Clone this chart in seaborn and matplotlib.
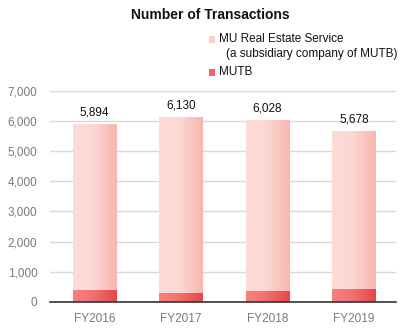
import numpy as np
import pandas as pd
import matplotlib
matplotlib.use("Agg")
import matplotlib.pyplot as plt
from matplotlib.colors import LinearSegmentedColormap
from matplotlib.patches import Rectangle
import seaborn as sns

years = ["FY2016", "FY2017", "FY2018", "FY2019"]
totals = [5894, 6130, 6028, 5678]
mutb = [400, 300, 370, 430]
mures = [t - m for t, m in zip(totals, mutb)]
total_labels = ["5,894", "6,130", "6,028", "5,678"]
yticks = [0, 1000, 2000, 3000, 4000, 5000, 6000, 7000]

sns.set_theme(style="white")
plt.rcParams['font.family'] = ['Liberation Sans', 'DejaVu Sans']

df = pd.DataFrame({"year": years, "mutb": mutb, "mures": mures})
df["stack"] = df["mutb"] + df["mures"]

fig = plt.figure(figsize=(4.03, 3.32), dpi=100)
ax = fig.add_axes([50/403, 1-302/332, 346/403, (302-90.7)/332])

sns.barplot(data=df, x="year", y="stack", color="#fcd9d5", width=0.5, ax=ax,
            saturation=1, linewidth=0)
n_top = len(ax.patches)
sns.barplot(data=df, x="year", y="mutb", color="#f06a6a", width=0.5, ax=ax,
            saturation=1, linewidth=0)

cm_top = LinearSegmentedColormap.from_list("top", [(0, "#fddbd7"), (0.45, "#fcd8d3"), (1, "#f8b6ae")])
cm_bot = LinearSegmentedColormap.from_list("bot", [(0, "#f88080"), (0.4, "#f27474"), (1, "#e64747")])
grad = np.linspace(0, 1, 256).reshape(1, -1)
for i, p in enumerate(ax.patches):
    x0, y0 = p.get_x(), p.get_y()
    w, h = p.get_width(), p.get_height()
    cmap = cm_top if i < n_top else cm_bot
    im = ax.imshow(grad, cmap=cmap, extent=[x0, x0 + w, y0, y0 + h],
                   aspect="auto", interpolation="bilinear", zorder=2 + (i >= n_top))
    im.set_clip_path(p)
    p.set_facecolor("none")

ax.set_xlim(-0.515, 3.485)
ax.set_ylim(0, 7000)
ax.set_yticks(yticks)
ax.set_yticklabels([f"{v:,}" for v in yticks])
ax.yaxis.grid(True, color="#d9d9d9", linewidth=1)
ax.set_axisbelow(True)
for s in ["top", "right", "left"]:
    ax.spines[s].set_visible(False)
ax.spines["bottom"].set_color("#333333")
ax.spines["bottom"].set_linewidth(1.2)
ax.spines["bottom"].set_zorder(5)
ax.tick_params(axis="both", length=0, labelsize=8.5, colors="#7a7a7a")
ax.tick_params(axis="y", pad=9)
ax.tick_params(axis="x", pad=8)
ax.set_xlabel("")
ax.set_ylabel("")

for i, (t, lab) in enumerate(zip(totals, total_labels)):
    ax.annotate(lab, (i, t), xytext=(0, 4), textcoords="offset points",
                ha="center", va="bottom", fontsize=8.5, color="#111111")

fig.text(210/403, 1-15/332, "Number of Transactions", ha="center", va="center",
         fontsize=10, fontweight="bold", color="#111111")

# legend
fig.patches.append(Rectangle((209/403, 1-43/332), 6/403, 7/332, transform=fig.transFigure,
                             facecolor="#fbd0cb", edgecolor="none"))
fig.patches.append(Rectangle((209/403, 1-76/332), 6/403, 7/332, transform=fig.transFigure,
                             facecolor="#ef6565", edgecolor="none"))
fig.text(219/403, 1-39/332, "MU Real Estate Service", ha="left", va="center",
         fontsize=8.5, color="#111111")
fig.text(226/403, 1-54/332, "(a subsidiary company of MUTB)", ha="left", va="center",
         fontsize=8.5, color="#111111")
fig.text(219/403, 1-72/332, "MUTB", ha="left", va="center",
         fontsize=8.5, color="#111111")

fig.savefig("out.png", dpi=100)
